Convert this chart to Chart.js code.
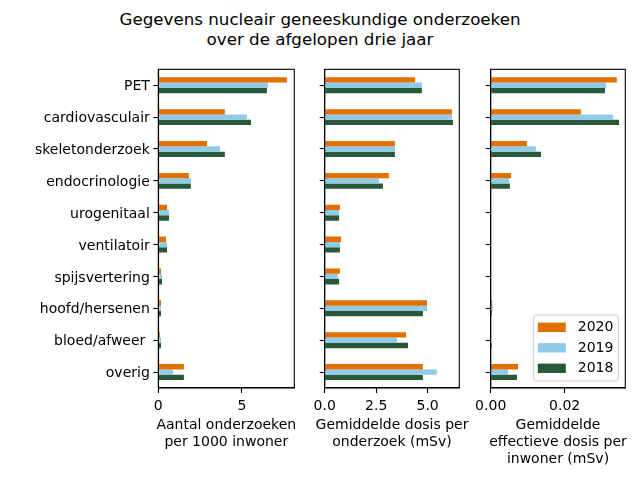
<!DOCTYPE html>
<html><head><meta charset="utf-8">
<script src="https://cdn.jsdelivr.net/npm/chart.js@4"></script>
<style>
html,body{margin:0;padding:0;width:640px;height:480px;overflow:hidden;background:#fff;}
#title{position:absolute;left:0;top:8.5px;width:640px;text-align:center;font-family:"DejaVu Sans";font-size:16.7px;line-height:20px;color:#000;}
canvas{position:absolute;top:0;}
</style></head><body>
<div id="title">Gegevens nucleair geneeskundige onderzoeken<br>over de afgelopen drie jaar</div>
<canvas id="k1" width="310" height="480" style="left:0px"></canvas>
<canvas id="k2" width="180" height="480" style="left:300px"></canvas>
<canvas id="k3" width="175" height="480" style="left:465px"></canvas>
<script>
const categories = ['PET','cardiovasculair','skeletonderzoek','endocrinologie','urogenitaal','ventilatoir','spijsvertering','hoofd/hersenen','bloed/afweer ','overig'];
const years = ['2020','2019','2018'];
const colors = ['#E17000','#8FCAE7','#275937'];

const count2020 = [7.69,3.98,2.91,1.83,0.52,0.46,0.16,0.16,0.10,1.53];
const count2019 = [6.55,5.30,3.69,1.95,0.64,0.52,0.22,0.16,0.16,0.88];
const count2018 = [6.49,5.54,3.98,1.95,0.64,0.52,0.22,0.16,0.16,1.53];

const dose2020 = [4.39,6.18,3.41,3.12,0.74,0.79,0.74,4.97,3.95,4.77];
const dose2019 = [4.72,6.18,3.41,2.64,0.70,0.74,0.65,4.97,3.51,5.45];
const dose2018 = [4.72,6.23,3.41,2.83,0.70,0.74,0.70,4.77,4.05,4.77];

const eff2020 = [0.0341,0.0244,0.0098,0.0055,0,0,0,0.0004,0,0.0074];
const eff2019 = [0.0312,0.0331,0.0122,0.0050,0,0,0,0.0006,0,0.0047];
const eff2018 = [0.0309,0.0347,0.0136,0.0052,0,0,0,0.0003,0.0003,0.0071];

const countTicks = [0,5];
const doseTicks = [0,2.5,5];
const effTicks = [0,0.02];

Chart.defaults.font.family = 'DejaVu Sans';
Chart.defaults.font.size = 14;
Chart.defaults.color = '#000';

const framePlugin = {
  id:'frame',
  afterDraw(chart){
    const a = chart.chartArea, ctx = chart.ctx;
    ctx.save();
    ctx.strokeStyle = '#000';
    ctx.lineWidth = 1.1;
    ctx.strokeRect(a.left, a.top, a.right - a.left, a.bottom - a.top);
    const lines = chart.options.plugins.frame.xtitle || [];
    ctx.font = '14px "DejaVu Sans"';
    ctx.fillStyle = '#000';
    ctx.textAlign = 'center';
    ctx.textBaseline = 'middle';
    const cx = (a.left + a.right) / 2;
    lines.forEach((t, i) => ctx.fillText(t, cx, a.bottom + 37.5 + i * 16.8));
    ctx.restore();
  }
};

const legendPlugin = {
  id:'mylegend',
  afterDraw(chart){
    const a = chart.chartArea, ctx = chart.ctx;
    const w = 85, h = 66;
    const x = a.right - 7 - w, y = a.bottom - 7 - h;
    ctx.save();
    ctx.beginPath();
    if (ctx.roundRect) ctx.roundRect(x, y, w, h, 3); else ctx.rect(x, y, w, h);
    ctx.fillStyle = 'rgba(255,255,255,0.8)';
    ctx.fill();
    ctx.strokeStyle = '#cccccc';
    ctx.lineWidth = 1;
    ctx.stroke();
    ctx.font = '14px "DejaVu Sans"';
    ctx.textBaseline = 'middle';
    ctx.textAlign = 'left';
    years.forEach((yr, i) => {
      const cy = y + 12.3 + i * 20.5;
      ctx.fillStyle = colors[i];
      ctx.fillRect(x + 4.5, cy - 4.7, 28, 9.4);
      ctx.fillStyle = '#000';
      ctx.fillText(yr, x + 44.5, cy + 0.5);
    });
    ctx.restore();
  }
};

function makeChart(id, series, max, ticks, decimals, yWidth, padRight, title, showLabels, extraPlugins){
  return new Chart(document.getElementById(id), {
    type:'bar',
    data:{
      labels: categories,
      datasets: series.map((d,i)=>({label: years[i], data: d, backgroundColor: colors[i], borderWidth:0,
        categoryPercentage:0.5, barPercentage:1.0}))
    },
    options:{
      indexAxis:'y',
      responsive:false,
      animation:false,
      layout:{padding:{top:69.3, right:padRight, left:0, bottom:0}},
      plugins:{legend:{display:false}, tooltip:{enabled:false}, title:{display:false}, frame:{xtitle:title}},
      scales:{
        x:{
          type:'linear', min:0, max:max,
          afterBuildTicks(s){ s.ticks = ticks.map(v=>({value:v})); },
          afterFit(s){ s.height = 92; },
          ticks:{padding:5, maxRotation:0, callback:(v)=>Number(v).toFixed(decimals)},
          grid:{drawOnChartArea:false, drawTicks:true, tickLength:5, tickColor:'#000', tickWidth:1.1},
          border:{display:true, color:'#000', width:1.1},
          title:{display:false}
        },
        y:{
          type:'category',
          offset:true,
          afterFit(s){ s.width = yWidth; },
          ticks:{display:showLabels, padding:3.5, autoSkip:false, labelOffset:1.5},
          grid:{offset:false, drawOnChartArea:false, drawTicks:true, tickLength:5, tickColor:'#000', tickWidth:1.1},
          border:{display:true, color:'#000', width:1.1}
        }
      }
    },
    plugins:[framePlugin].concat(extraPlugins||[])
  });
}

makeChart('k1', [count2020,count2019,count2018], 8.13, countTicks, 0, 158.3, 15.7,
  ['Aantal onderzoeken','per 1000 inwoner'], true);
makeChart('k2', [dose2020,dose2019,dose2018], 6.54, doseTicks, 1, 24.7, 20.7,
  ['Gemiddelde dosis per','onderzoek (mSv)'], false);
makeChart('k3', [eff2020,eff2019,eff2018], 0.0364, effTicks, 2, 25.7, 14.7,
  ['Gemiddelde','effectieve dosis per','inwoner (mSv)'], false, [legendPlugin]);
</script>
</body></html>
